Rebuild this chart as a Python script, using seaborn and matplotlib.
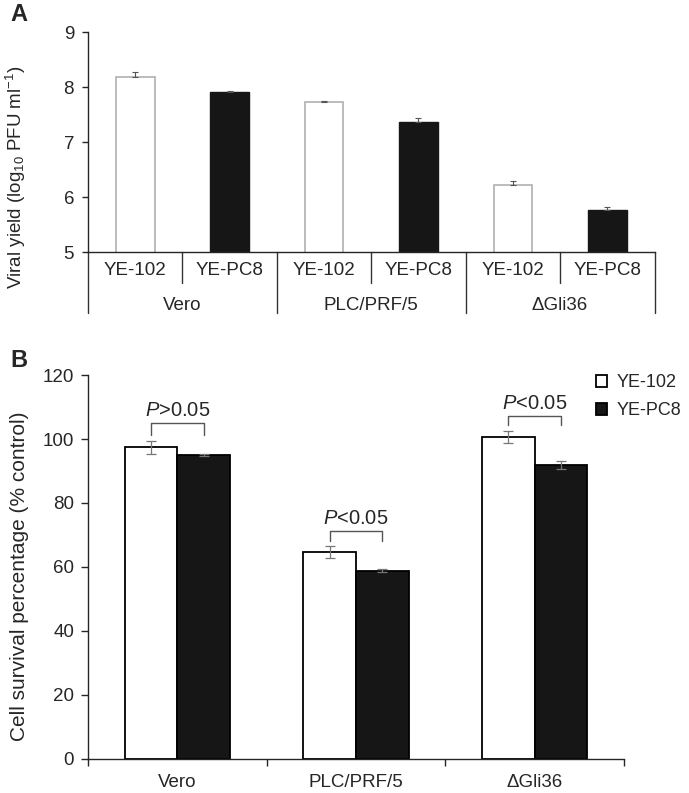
import numpy as np
import pandas as pd
import seaborn as sns
import matplotlib.pyplot as plt

# panel A: viral yield
cells = ["Vero", "PLC/PRF/5", "ΔGli36"]
viruses = ["YE-102", "YE-PC8"]
yield_102 = [8.19, 7.72, 6.22]
yield_pc8 = [7.91, 7.36, 5.77]
yield_err_102 = [0.08, 0.03, 0.07]
yield_err_pc8 = [0.02, 0.08, 0.05]

# panel B: cell survival
surv_102 = [97.4, 64.7, 100.7]
surv_pc8 = [94.9, 58.8, 91.9]
surv_err_102 = [2.0, 2.0, 1.8]
surv_err_pc8 = [0.3, 0.5, 1.2]
p_labels = ["$P$>0.05", "$P$<0.05", "$P$<0.05"]
bracket_top = [105.0, 71.3, 107.2]
bracket_leg = [101.3, 68.1, 104.4]

sns.set_style("ticks")
plt.rcParams["font.family"] = ["Liberation Sans", "DejaVu Sans"]
plt.rcParams["mathtext.fontset"] = "custom"
plt.rcParams["mathtext.rm"] = "Liberation Sans"
plt.rcParams["mathtext.it"] = "Liberation Sans:italic"
plt.rcParams["axes.linewidth"] = 1.0

fig = plt.figure(figsize=(6.89, 7.93), dpi=100)
axA = fig.add_axes([0.1277, 0.6822, 0.8223, 0.2774])
axB = fig.add_axes([0.1277, 0.0429, 0.7779, 0.4842])

pal = {"YE-102": "white", "YE-PC8": "#161616"}

# ---- panel A ----
slots = [c + " " + v for c in cells for v in viruses]
dfA = pd.DataFrame({
    "slot": slots,
    "virus": viruses * 3,
    "value": [val for pair in zip(yield_102, yield_pc8) for val in pair],
})
sns.barplot(data=dfA, x="slot", y="value", hue="virus", order=slots, palette=pal,
            dodge=False, width=0.41, errorbar=None, edgecolor="#161616",
            linewidth=1.0, legend=False, ax=axA)
for p in axA.patches:
    if p.get_facecolor()[0] > 0.9:
        p.set_edgecolor("#b0b0b0")
        p.set_linewidth(1.2)

errA = [e for pair in zip(yield_err_102, yield_err_pc8) for e in pair]
axA.errorbar(np.arange(6), dfA["value"], yerr=[np.zeros(6), errA], fmt="none",
             ecolor="#555555", elinewidth=0.8, capsize=2, capthick=0.8)

axA.set_ylim(5, 9)
axA.set_xlim(-0.5, 5.5)
axA.set_yticks([5, 6, 7, 8, 9])
axA.tick_params(axis="y", labelsize=13.5, length=4, width=1, pad=6)
axA.set_xticks(range(6))
axA.set_xticklabels(viruses * 3, fontsize=13.5)
axA.tick_params(axis="x", length=0, pad=7)
axA.set_xlabel("")
axA.set_ylabel("Viral yield (log$_{10}$ PFU ml$^{-1}$)", fontsize=13.5)
axA.yaxis.set_label_coords(-0.106, 0.34)
sns.despine(ax=axA)

trA = axA.get_xaxis_transform()
for xb in [0.5, 2.5, 4.5]:
    axA.plot([xb, xb], [0, -0.141], color="#333333", lw=1, transform=trA, clip_on=False)
for xb in [-0.5, 1.5, 3.5, 5.5]:
    axA.plot([xb, xb], [0, -0.277], color="#333333", lw=1, transform=trA, clip_on=False)
for i, c in enumerate(cells):
    axA.text(2 * i + 0.5, -0.243, c, transform=trA, ha="center", va="center", fontsize=13.5)

# ---- panel B ----
dfB = pd.DataFrame({
    "cell": cells * 2,
    "virus": ["YE-102"] * 3 + ["YE-PC8"] * 3,
    "value": surv_102 + surv_pc8,
})
sns.barplot(data=dfB, x="cell", y="value", hue="virus", order=cells, hue_order=viruses,
            palette=pal, width=0.59, errorbar=None, edgecolor="black", linewidth=1.3,
            ax=axB)
off = 0.1475
xb = np.arange(3)
axB.errorbar(xb - off, surv_102, yerr=surv_err_102, fmt="none", ecolor="#777777",
             elinewidth=0.9, capsize=3.5, capthick=0.9)
axB.errorbar(xb + off, surv_pc8, yerr=surv_err_pc8, fmt="none", ecolor="#777777",
             elinewidth=0.9, capsize=3.5, capthick=0.9)

for i in range(3):
    x0, x1 = i - off, i + off
    axB.plot([x0, x0, x1, x1], [bracket_leg[i], bracket_top[i], bracket_top[i], bracket_leg[i]],
             color="#555555", lw=1)
    axB.text(i, bracket_top[i] + 0.9, p_labels[i], ha="center", va="bottom", fontsize=14.5)

axB.set_ylim(0, 120)
axB.set_xlim(-0.5, 2.5)
axB.set_yticks(range(0, 121, 20))
axB.tick_params(axis="y", labelsize=13.5, length=5, width=1, pad=5)
axB.set_xticks(range(3))
axB.set_xticklabels(cells, fontsize=13.5)
axB.tick_params(axis="x", which="major", length=0, pad=11)
axB.set_xticks([-0.5, 0.5, 1.5, 2.5], minor=True)
axB.tick_params(axis="x", which="minor", length=5, width=1)
axB.set_xlabel("")
axB.set_ylabel("Cell survival percentage (% control)", fontsize=15)
axB.yaxis.set_label_coords(-0.11, 0.477)
sns.despine(ax=axB)

handles, labels = axB.get_legend_handles_labels()
axB.legend(handles, labels, loc="upper left", bbox_to_anchor=(0.855, 0.537),
           bbox_transform=fig.transFigure, frameon=False, fontsize=13,
           handlelength=0.6, handleheight=0.6, handletextpad=0.5, labelspacing=0.6,
           borderaxespad=0)

fig.text(0.015, 0.982, "A", fontsize=17, fontweight="bold", va="center")
fig.text(0.015, 0.546, "B", fontsize=17, fontweight="bold", va="center")

fig.savefig("out.png", dpi=100)
